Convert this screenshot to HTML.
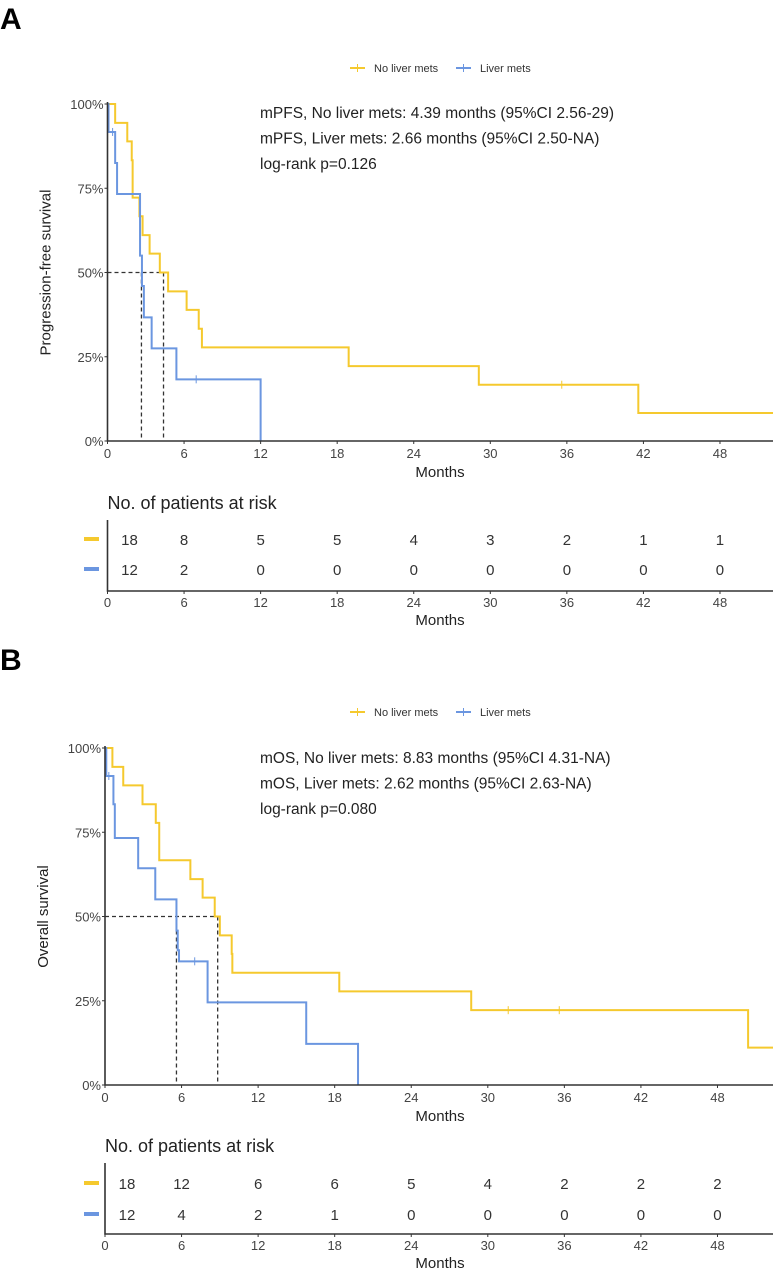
<!DOCTYPE html>
<html><head><meta charset="utf-8"><style>
html,body{margin:0;padding:0;background:#fff;}
svg{display:block;font-family:"Liberation Sans",sans-serif;}
</style></head><body>
<svg id="fig" width="773" height="1270" viewBox="0 0 773 1270">
<text x="0" y="29" font-size="30" font-weight="bold">A</text>
<text x="0" y="670" font-size="30" font-weight="bold">B</text>
</svg>
<script>
// Panel A data (PFS)
const aYellowT = [0, 0.6, 1.55, 1.9, 1.97, 2.5, 2.75, 3.3, 4.1, 4.75, 6.2, 7.15, 7.4, 18.9, 29.1, 41.6, 52.5];
const aYellowS = [1, 0.944, 0.889, 0.833, 0.722, 0.667, 0.611, 0.556, 0.5, 0.444, 0.389, 0.333, 0.278, 0.222, 0.167, 0.083, 0.083];
const aYellowCensT = [35.6];
const aYellowCensS = [0.167];
const aBlueT = [0, 0.08, 0.6, 0.75, 2.55, 2.7, 2.85, 3.46, 5.4, 12.0];
const aBlueS = [1, 0.917, 0.825, 0.733, 0.55, 0.46, 0.367, 0.275, 0.183, 0];
const aBlueCensT = [0.4, 6.95];
const aBlueCensS = [0.917, 0.183];
const aMedians = [2.66, 4.39];
const aRiskYellow = [18, 8, 5, 5, 4, 3, 2, 1, 1];
const aRiskBlue = [12, 2, 0, 0, 0, 0, 0, 0, 0];
const aText = ["mPFS, No liver mets: 4.39 months (95%CI 2.56-29)", "mPFS, Liver mets: 2.66 months (95%CI 2.50-NA)", "log-rank p=0.126"];
// Panel B data (OS)
const bYellowT = [0, 0.58, 1.43, 2.94, 3.98, 4.25, 6.69, 7.65, 8.6, 9.0, 9.93, 9.98, 18.36, 28.7, 50.4, 52.5];
const bYellowS = [1, 0.944, 0.889, 0.833, 0.778, 0.667, 0.611, 0.556, 0.5, 0.444, 0.389, 0.333, 0.278, 0.222, 0.111, 0.111];
const bYellowCensT = [31.6, 35.6];
const bYellowCensS = [0.222, 0.222];
const bBlueT = [0, 0.1, 0.66, 0.77, 2.6, 3.94, 5.6, 5.7, 5.8, 8.04, 15.77, 19.83];
const bBlueS = [1, 0.917, 0.833, 0.733, 0.643, 0.551, 0.458, 0.4, 0.367, 0.245, 0.122, 0];
const bBlueCensT = [0.3, 7.03];
const bBlueCensS = [0.917, 0.367];
const bMedians = [5.6, 8.83];
const bRiskYellow = [18, 12, 6, 6, 5, 4, 2, 2, 2];
const bRiskBlue = [12, 4, 2, 1, 0, 0, 0, 0, 0];
const bText = ["mOS, No liver mets: 8.83 months (95%CI 4.31-NA)", "mOS, Liver mets: 2.62 months (95%CI 2.63-NA)", "log-rank p=0.080"];
const xTicks = [0, 6, 12, 18, 24, 30, 36, 42, 48];
const yTicks = [0, 0.25, 0.5, 0.75, 1];
const yTickLabels = ["0%", "25%", "50%", "75%", "100%"];

const NS = "http://www.w3.org/2000/svg";
const svg = document.getElementById("fig");
const YEL = "#f5c92e", BLU = "#6b96e0";
function mk(tag, attrs, parent, txt) {
  const e = document.createElementNS(NS, tag);
  for (const k in attrs) e.setAttribute(k, attrs[k]);
  if (txt !== undefined) e.textContent = txt;
  (parent || svg).appendChild(e);
  return e;
}
function panel(p, G) {
  const g = mk("g", {});
  
  
  const xs = t => G.x0 + t * G.pxm;
  const ys = s => G.y0 - s * (G.y0 - G.y1);
  // legend
  const lg = mk("g", {}, g);
  
  
  mk("line", {x1: 350, x2: 365, y1: G.leg, y2: G.leg, stroke: YEL, "stroke-width": 2}, lg);
  mk("line", {x1: 357.5, x2: 357.5, y1: G.leg - 4, y2: G.leg + 4, stroke: YEL, "stroke-width": 1}, lg);
  const t1 = mk("text", {x: 374, y: G.leg + 4, "font-size": 11, fill: "#333"}, lg, "No liver mets");
  
  
  mk("line", {x1: 456, x2: 471, y1: G.leg, y2: G.leg, stroke: BLU, "stroke-width": 2}, lg);
  mk("line", {x1: 463.5, x2: 463.5, y1: G.leg - 4, y2: G.leg + 4, stroke: BLU, "stroke-width": 1}, lg);
  const t2 = mk("text", {x: 480, y: G.leg + 4, "font-size": 11, fill: "#333"}, lg, "Liver mets");
  
  
  // y ticks
  yTicks.forEach((v, i) => {
    mk("line", {x1: G.x0 - 3, x2: G.x0, y1: ys(v), y2: ys(v), stroke: "#333"}, g);
    const tl = mk("text", {x: G.x0 - 4, y: ys(v) + 5, "font-size": 13, fill: "#444", "text-anchor": "end"}, g, yTickLabels[i]);
    
    
  });
  const yl = mk("text", {x: 0, y: 0, "font-size": 15, fill: "#222", "text-anchor": "middle", transform: `translate(${G.x0 - 57},${(G.y0 + G.y1) / 2}) rotate(-90)`}, g, G.ylabel);
  
  
  // x ticks
  xTicks.forEach(v => {
    mk("line", {x1: xs(v), x2: xs(v), y1: G.y0, y2: G.y0 + 3, stroke: "#333"}, g);
    const tl = mk("text", {x: xs(v), y: G.y0 + 17, "font-size": 13, fill: "#444", "text-anchor": "middle"}, g, String(v));
    
    
  });
  const xl = mk("text", {x: 440, y: G.y0 + 36, "font-size": 15, fill: "#222", "text-anchor": "middle"}, g, "Months");
  
  
  // medians
  const m0 = G.med[0], m1 = G.med[1];
  mk("path", {d: `M${G.x0},${ys(0.5)}H${xs(m1)}M${xs(m0)},${ys(0.5)}V${G.y0}M${xs(m1)},${ys(0.5)}V${G.y0}`, stroke: "#333", "stroke-width": 1.3, "stroke-dasharray": "4,3", fill: "none"}, g);
  // curves
  function curve(T, S, col, name, cT, cS) {
    let d = `M${xs(T[0])},${ys(S[0])}`;
    for (let i = 1; i < T.length; i++) d += `H${xs(T[i])}V${ys(S[i])}`;
    const c = mk("path", {d: d, stroke: col, "stroke-width": 2, fill: "none"}, g);
    
    
    cT.forEach((t, i) => {
      const cm = mk("line", {x1: xs(t), x2: xs(t), y1: ys(cS[i]) - 4, y2: ys(cS[i]) + 4, stroke: col, "stroke-width": 1}, g);
      
      
    });
  }
  curve(G.yT, G.yS, YEL, 'curve-no-liver-mets', G.yCT, G.yCS);
  curve(G.bT, G.bS, BLU, 'curve-liver-mets', G.bCT, G.bCS);
  // axes
  mk("path", {d: `M${G.x0},${G.y1 - 2}V${G.y0}H773`, stroke: "#333", "stroke-width": 1.6, fill: "none"}, g);
  // annotation
  G.text.forEach((s, i) => {
    const at = mk("text", {x: 260, y: G.txt + i * 25.5, "font-size": 15.5, fill: "#222"}, g, s);
    
    
  });
  // risk table
  const rt = mk("text", {x: G.x0, y: G.rTitle, "font-size": 18, fill: "#222"}, g, "No. of patients at risk");
  
  
  mk("path", {d: `M${G.x0},${G.rAxis - 71}V${G.rAxis}H773`, stroke: "#333", "stroke-width": 1.6, fill: "none"}, g);
  mk("rect", {x: 84, y: G.r1 - 8, width: 15, height: 4, fill: YEL}, g);
  mk("rect", {x: 84, y: G.r2 - 8, width: 15, height: 4, fill: BLU}, g);
  xTicks.forEach((v, i) => {
    const xx = i === 0 ? G.x0 + 22 : xs(v);
    const r1 = mk("text", {x: xx, y: G.r1, "font-size": 15, fill: "#333", "text-anchor": "middle"}, g, String(G.rY[i]));
    
    
    const r2 = mk("text", {x: xx, y: G.r2, "font-size": 15, fill: "#333", "text-anchor": "middle"}, g, String(G.rB[i]));
    
    
    mk("line", {x1: xs(v), x2: xs(v), y1: G.rAxis, y2: G.rAxis + 3, stroke: "#333"}, g);
    const tl = mk("text", {x: xs(v), y: G.rAxis + 16, "font-size": 13, fill: "#444", "text-anchor": "middle"}, g, String(v));
    
    
  });
  const xl2 = mk("text", {x: 440, y: G.rAxis + 34, "font-size": 15, fill: "#222", "text-anchor": "middle"}, g, "Months");
  
  
}
panel('pfs', {x0: 107.5, pxm: 12.76, y0: 441, y1: 104, leg: 68, ylabel: "Progression-free survival", med: aMedians,
  yT: aYellowT, yS: aYellowS, yCT: aYellowCensT, yCS: aYellowCensS, bT: aBlueT, bS: aBlueS, bCT: aBlueCensT, bCS: aBlueCensS,
  text: aText, txt: 118, rTitle: 509, r1: 545, r2: 575, rAxis: 591, rY: aRiskYellow, rB: aRiskBlue});
panel('os', {x0: 105, pxm: 12.76, y0: 1085, y1: 748, leg: 712, ylabel: "Overall survival", med: bMedians,
  yT: bYellowT, yS: bYellowS, yCT: bYellowCensT, yCS: bYellowCensS, bT: bBlueT, bS: bBlueS, bCT: bBlueCensT, bCS: bBlueCensS,
  text: bText, txt: 763, rTitle: 1152, r1: 1189, r2: 1220, rAxis: 1234, rY: bRiskYellow, rB: bRiskBlue});
</script>
</body></html>
